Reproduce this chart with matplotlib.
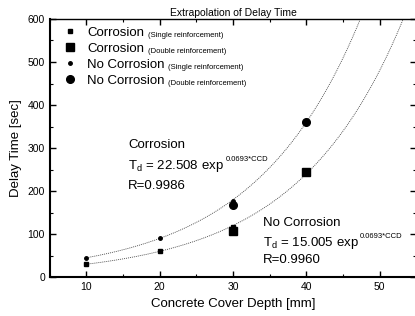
import numpy as np
import matplotlib
matplotlib.use('Agg')
import matplotlib.pyplot as plt
from matplotlib.ticker import MultipleLocator

plt.rcParams['font.family'] = ['Liberation Sans', 'DejaVu Sans']

# datos
ccd_single = [10, 20, 30]
corr_single = [45, 90, 178]
nocorr_single = [30, 60, 116]

ccd_double = [30, 40]
corr_double = [168, 361]
nocorr_double = [107, 245]

# ajustes exponenciales (T_d = a * exp(b*CCD))
fit_a = [22.508, 15.005]
fit_b = [0.0693, 0.0693]

fig = plt.figure(figsize=(4.15, 3.16), dpi=100)
ax = fig.add_axes([0.12, 0.123, 0.883, 0.817])

# curvas de extrapolacion
x_fit = np.linspace(10, 55, 200)
for a, b in zip(fit_a, fit_b):
    ax.plot(x_fit, a * np.exp(b * x_fit), linestyle=(0, (1.2, 1.2)), color='#444444', linewidth=0.6)

h1, = ax.plot(ccd_single, nocorr_single, 's', color='black', markersize=2.8, linestyle='none')
h2, = ax.plot(ccd_double, nocorr_double, 's', color='black', markersize=5.5, linestyle='none')
h3, = ax.plot(ccd_single, corr_single, 'o', color='black', markersize=2.5, linestyle='none')
h4, = ax.plot(ccd_double, corr_double, 'o', color='black', markersize=5.5, linestyle='none')

ax.set_xlim(5, 55)
ax.set_ylim(0, 600)
ax.xaxis.set_major_locator(MultipleLocator(10))
ax.xaxis.set_minor_locator(MultipleLocator(5))
ax.yaxis.set_major_locator(MultipleLocator(100))
ax.yaxis.set_minor_locator(MultipleLocator(50))
ax.set_xticks([10, 20, 30, 40, 50])
ax.tick_params(which='both', direction='in', top=True, right=True, labelsize=7.5)
ax.tick_params(which='major', length=4, width=1)
ax.tick_params(which='minor', length=2, width=0.8)
ax.spines['left'].set_linewidth(1.5)
ax.spines['bottom'].set_linewidth(1.5)
ax.spines['top'].set_linewidth(1.0)
ax.spines['right'].set_linewidth(1.0)

ax.set_xlabel('Concrete Cover Depth [mm]', fontsize=9.5)
ax.set_ylabel('Delay Time [sec]', fontsize=9.5)
ax.set_title('Extrapolation of Delay Time', fontsize=7.5, pad=2)

leg_main = ['Corrosion', 'Corrosion', 'No Corrosion', 'No Corrosion']
leg_sub = ['(Single reinforcement)', '(Double reinforcement)',
           '(Single reinforcement)', '(Double reinforcement)']
leg = ax.legend([h1, h2, h3, h4], leg_main, loc='upper left', frameon=False,
                fontsize=9.5, handletextpad=0.8, handlelength=1.0,
                labelspacing=0.27, borderaxespad=0.2, bbox_to_anchor=(0.015, 1.0))

# texto pequeño junto a cada entrada de la leyenda
fig.canvas.draw()
renderer = fig.canvas.get_renderer()
inv = fig.transFigure.inverted()
for txt, sub in zip(leg.get_texts(), leg_sub):
    bb = txt.get_window_extent(renderer)
    x0, y0 = inv.transform((bb.x1 + 4, bb.y0 + 2))
    fig.text(x0, y0, sub, fontsize=5.5, va='baseline', ha='left')

# ecuaciones
ax.text(15.7, 307, 'Corrosion', fontsize=9.5, va='center')
t1 = ax.text(15.7, 258, r'T$_{\mathregular{d}}$ = 22.508 exp', fontsize=9.5, va='center')
ax.annotate('0.0693*CCD', xy=(1, 0.72), xycoords=t1, xytext=(1, 0), textcoords='offset points',
            fontsize=5.5, va='bottom', ha='left')
ax.text(15.7, 212, 'R=0.9986', fontsize=9.5, va='center')
ax.text(34.1, 126, 'No Corrosion', fontsize=9.5, va='center')
t2 = ax.text(34.1, 79, r'T$_{\mathregular{d}}$ = 15.005 exp', fontsize=9.5, va='center')
ax.annotate('0.0693*CCD', xy=(1, 0.72), xycoords=t2, xytext=(1, 0), textcoords='offset points',
            fontsize=5.5, va='bottom', ha='left')
ax.text(34.1, 40, 'R=0.9960', fontsize=9.5, va='center')

fig.savefig('out.png', dpi=100)
